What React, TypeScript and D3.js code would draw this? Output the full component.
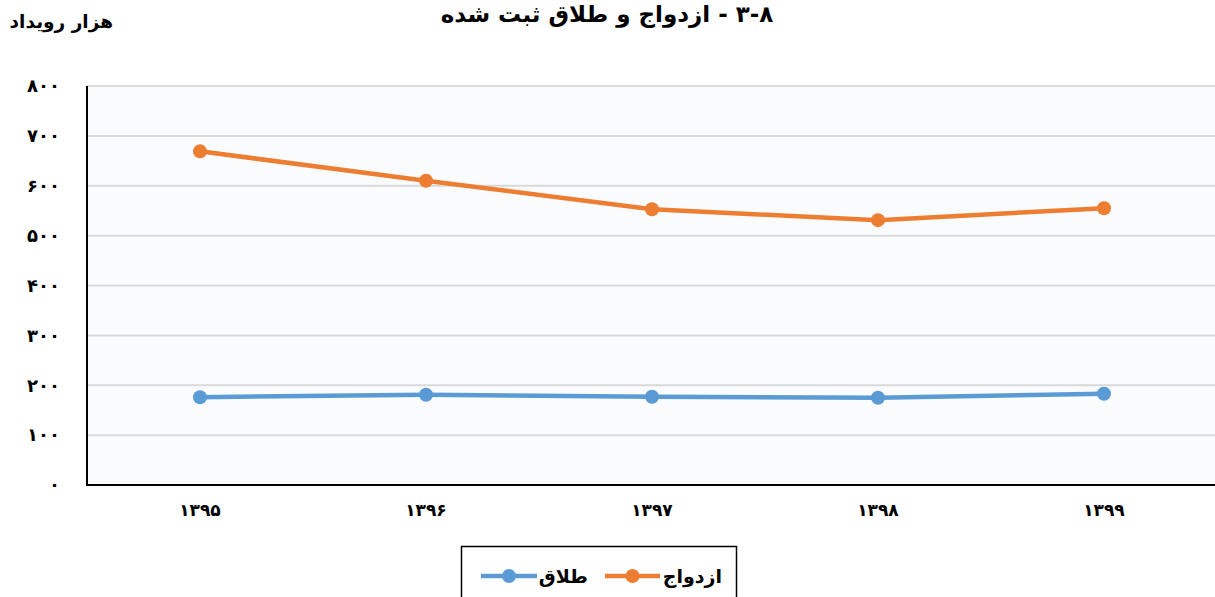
import React, { useEffect, useRef } from "react";
import * as d3 from "d3";

const categories = ["۱۳۹۵", "۱۳۹۶", "۱۳۹۷", "۱۳۹۸", "۱۳۹۹"];
const marriage = [669, 610, 553, 531, 555];
const divorce = [176, 181, 177, 175, 183];
const yTicks = [0, 100, 200, 300, 400, 500, 600, 700, 800];
const yTickLabels = ["۰", "۱۰۰", "۲۰۰", "۳۰۰", "۴۰۰", "۵۰۰", "۶۰۰", "۷۰۰", "۸۰۰"];
const seriesNames = ["ازدواج", "طلاق"];
const titleText = "۳-۸ - ازدواج و طلاق ثبت شده";
const yAxisTitle = "هزار رویداد";

const W = 1215;
const H = 597;
const FONT = "'DejaVu Sans', sans-serif";
const ORANGE = "#ED7D31";
const BLUE = "#5B9BD5";

export default function App() {
  const ref = useRef<SVGSVGElement>(null);

  useEffect(() => {
    const svg = d3.select(ref.current);
    svg.selectAll("*").remove();

    const left = 87, right = 1217, top = 86, bottom = 485;
    const x = d3.scaleBand<string>().domain(categories).range([left, right]);
    const y = d3.scaleLinear().domain([0, 800]).range([bottom, top]);
    const cx = (c: string) => (x(c) as number) + x.bandwidth() / 2;

    svg.append("rect").attr("x", 0).attr("y", 0).attr("width", W).attr("height", H).attr("fill", "#ffffff");
    svg.append("rect").attr("x", left).attr("y", top).attr("width", W - left).attr("height", bottom - top).attr("fill", "#fafbfd");

    // gridlines
    svg.append("g").selectAll("line").data(yTicks.filter(v => v > 0)).join("line")
      .attr("x1", left).attr("x2", W)
      .attr("y1", d => y(d)).attr("y2", d => y(d))
      .attr("stroke", "#d9d9d9").attr("stroke-width", 2);

    // axes lines
    svg.append("line").attr("x1", left).attr("x2", left).attr("y1", top).attr("y2", bottom + 1)
      .attr("stroke", "#000").attr("stroke-width", 2);
    svg.append("line").attr("x1", left - 1).attr("x2", W).attr("y1", bottom).attr("y2", bottom)
      .attr("stroke", "#000").attr("stroke-width", 2);

    // y labels
    svg.append("g").selectAll("text").data(yTicks).join("text")
      .attr("x", 60).attr("y", d => y(d)).attr("dy", "0.35em")
      .attr("text-anchor", "end").attr("font-family", FONT).attr("font-weight", "bold")
      .attr("font-size", 18).attr("fill", "#000")
      .text((d, i) => yTickLabels[i]);

    // x labels
    svg.append("g").selectAll("text").data(categories).join("text")
      .attr("x", d => cx(d)).attr("y", 510).attr("dy", "0.35em")
      .attr("text-anchor", "middle").attr("font-family", FONT).attr("font-weight", "bold")
      .attr("font-size", 17).attr("fill", "#000")
      .text(d => d);

    const line = d3.line<number>().x((d, i) => cx(categories[i])).y(d => y(d));
    const series = [
      { values: marriage, color: ORANGE },
      { values: divorce, color: BLUE },
    ];
    series.forEach(s => {
      svg.append("path").attr("d", line(s.values) as string).attr("fill", "none")
        .attr("stroke", s.color).attr("stroke-width", 4.5).attr("stroke-linejoin", "round");
      svg.append("g").selectAll("circle").data(s.values).join("circle")
        .attr("cx", (d, i) => cx(categories[i])).attr("cy", d => y(d)).attr("r", 7)
        .attr("fill", s.color);
    });

    // title
    svg.append("text").attr("x", 607).attr("y", 14).attr("dy", "0.35em")
      .attr("text-anchor", "middle").attr("direction", "rtl")
      .attr("font-family", FONT).attr("font-weight", "bold").attr("font-size", 23).attr("fill", "#000")
      .text(titleText);

    // y axis title
    svg.append("text").attr("x", 113).attr("y", 22).attr("dy", "0.35em")
      .attr("text-anchor", "start").attr("direction", "rtl")
      .attr("font-family", FONT).attr("font-weight", "bold").attr("font-size", 18.5).attr("fill", "#000")
      .text(yAxisTitle);

    // legend
    svg.append("rect").attr("x", 461.5).attr("y", 546.5).attr("width", 275).attr("height", 60)
      .attr("fill", "#fff").attr("stroke", "#000").attr("stroke-width", 1.5);
    const ly = 576;
    const legendItems = [
      { name: seriesNames[0], color: ORANGE, x1: 605, x2: 660, tx: 722 },
      { name: seriesNames[1], color: BLUE, x1: 481, x2: 537, tx: 588 },
    ];
    legendItems.forEach(it => {
      svg.append("line").attr("x1", it.x1).attr("x2", it.x2).attr("y1", ly).attr("y2", ly)
        .attr("stroke", it.color).attr("stroke-width", 4.5);
      svg.append("circle").attr("cx", (it.x1 + it.x2) / 2).attr("cy", ly).attr("r", 7).attr("fill", it.color);
      svg.append("text").attr("x", it.tx).attr("y", ly).attr("dy", "0.35em")
        .attr("text-anchor", "start").attr("direction", "rtl")
        .attr("font-family", FONT).attr("font-weight", "bold").attr("font-size", 19).attr("fill", "#000")
        .text(it.name);
    });
  }, []);

  return (
    <svg ref={ref} width={W} height={H} style={{ position: "absolute", left: 0, top: 0, display: "block" }} />
  );
}
